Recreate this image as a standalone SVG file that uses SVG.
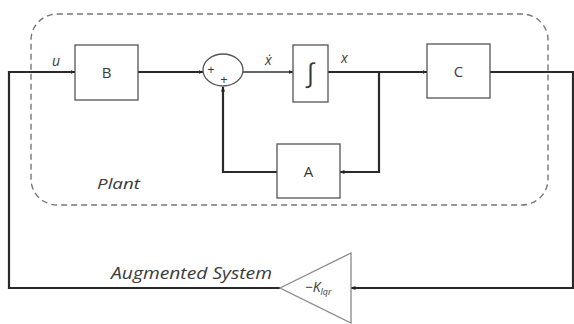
<svg xmlns="http://www.w3.org/2000/svg" width="574" height="324" viewBox="0 0 574 324">
<defs>
<marker id="arr" viewBox="0 0 10 10" refX="9" refY="5" markerWidth="5" markerHeight="5" orient="auto" markerUnits="userSpaceOnUse">
<path d="M0,1 L10,5 L0,9 z" fill="#222"/>
</marker>
</defs>
<style>
.box{fill:#fff;stroke:#555;stroke-width:1.3}
.wire{fill:none;stroke:#2a2a2a;stroke-width:2.2}
.thin{fill:none;stroke:#333;stroke-width:1.5}
.lbl{font-family:"Open Sans","DejaVu Sans",sans-serif;fill:#3a3a3a;text-anchor:middle}
.it{font-family:"Open Sans","DejaVu Sans",sans-serif;font-style:italic;fill:#3a3a3a}
</style>
<rect width="574" height="324" fill="#fff"/>
<rect id="plant-boundary" x="31" y="14" width="517" height="191" rx="26" ry="26" fill="none" stroke="#777" stroke-width="1.4" stroke-dasharray="6,4"/>
<g id="connectors">
<polyline class="wire" points="573,72 573,288"/>
<polyline class="wire" points="490,72 574,72"/>
<polyline class="wire" points="574,288 351,288" marker-end="url(#arr)"/>
<polyline class="wire" points="280,288 9,288 9,72 75,72" marker-end="url(#arr)"/>
<polyline class="wire" points="138,72 203,72" marker-end="url(#arr)"/>
<polyline class="thin" points="243,72 293,72" marker-end="url(#arr)"/>
<polyline class="wire" points="328,72 427,72" marker-end="url(#arr)"/>
<polyline class="wire" points="379,72 379,172 340,172" marker-end="url(#arr)"/>
<polyline class="wire" points="277,172 223,172 223,87" marker-end="url(#arr)"/>
</g>
<g id="node-B"><rect class="box" x="75" y="45" width="63" height="55"/><text class="lbl" x="106.5" y="78" font-size="15">B</text></g>
<g id="node-sum"><ellipse cx="223" cy="70" rx="20" ry="16" fill="#fff" stroke="#555" stroke-width="1.3"/>
<text class="lbl" x="211" y="74" font-size="13">+</text><text class="lbl" x="224" y="84" font-size="13">+</text></g>
<g id="node-int"><rect class="box" x="293" y="45" width="35" height="57"/><text class="lbl" x="310.5" y="82" font-size="26" font-family="DejaVu Sans">∫</text></g>
<g id="node-C"><rect class="box" x="427" y="44" width="63" height="54"/><text class="lbl" x="458.5" y="77" font-size="15">C</text></g>
<g id="node-A"><rect class="box" x="277" y="144" width="63" height="54"/><text class="lbl" x="308.5" y="177" font-size="15">A</text></g>
<g id="node-K"><polygon points="280,288 351,253 351,323" fill="#fff" stroke="#888" stroke-width="1.3"/>
<text class="it" x="305" y="292" font-size="14">−K<tspan font-size="9" dy="3">lqr</tspan></text></g>
<g id="labels">
<text class="it" x="52" y="66" font-size="14">u</text>
<text class="it" x="265" y="65" font-size="14">ẋ</text>
<text class="it" x="341" y="63" font-size="14">x</text>
<text class="it" x="97" y="189" font-size="15" textLength="43" lengthAdjust="spacingAndGlyphs">Plant</text>
<text class="it" x="111" y="279" font-size="17" textLength="161" lengthAdjust="spacingAndGlyphs">Augmented System</text>
</g>
</svg>
